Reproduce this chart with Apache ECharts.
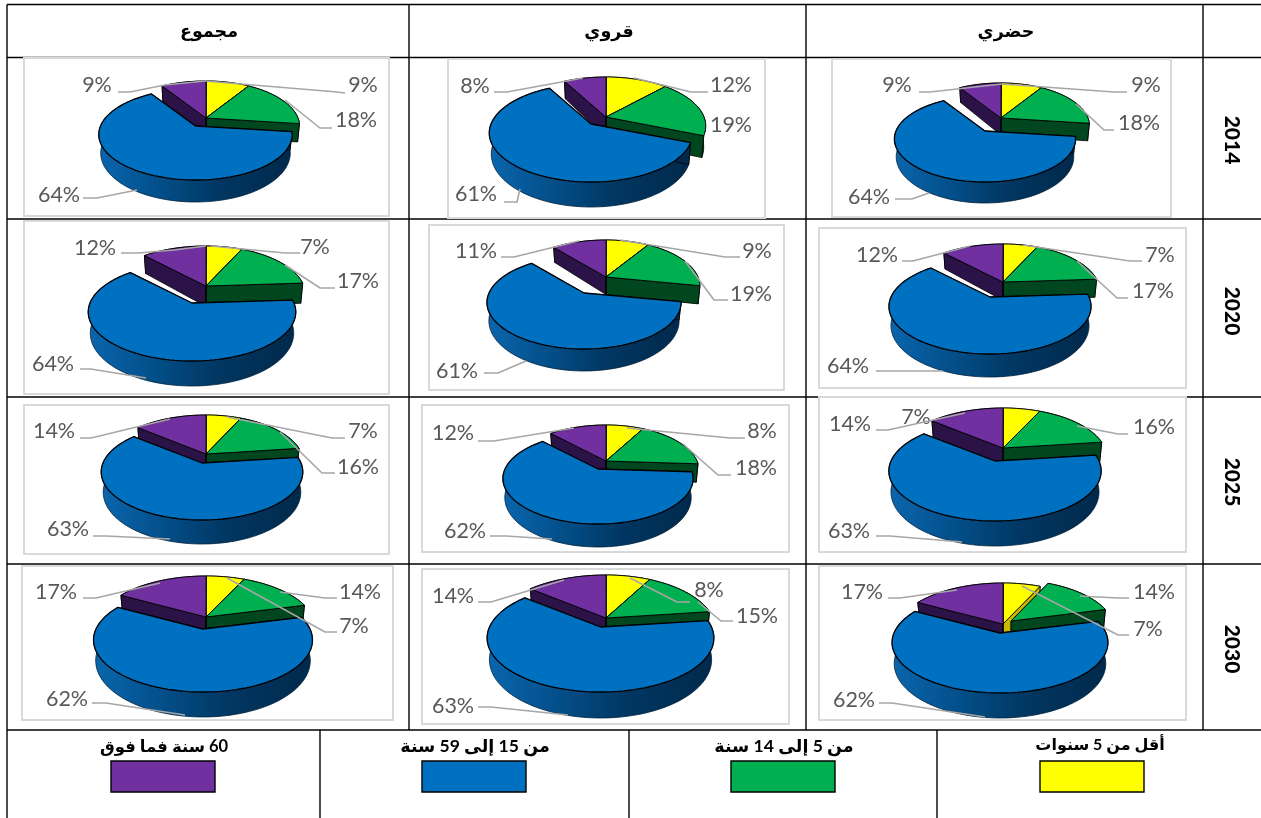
<!DOCTYPE html>
<html><head><meta charset="utf-8">
<style>html,body{margin:0;padding:0;background:#fff}#c{width:1261px;height:818px}</style>
<script src="https://cdn.jsdelivr.net/npm/echarts@6/dist/echarts.min.js"></script>
</head><body><div id="c"></div>
<script>
// ---------- data ----------
const zones = ['مجموع','قروي','حضري'];
const years = ['2014','2020','2025','2030'];
const ageGroups = ['أقل من 5 سنوات','من 5 إلى 14 سنة','من 15 إلى 59 سنة','60 سنة فما فوق'];
const totalShares = [[9,18,64,9],[7,17,64,12],[7,16,63,14],[7,14,62,17]];
const ruralShares = [[12,19,61,8],[9,19,61,11],[8,18,62,12],[8,15,63,14]];
const urbanShares = [[9,18,64,9],[7,17,64,12],[7,16,63,14],[7,14,62,17]];

// ---------- layout (pixels of the page, styles) ----------
// a: apex of back slices, top: y of back edge, b: apex of blue slice, bot: front y of blue face, ext: y of rim bottom, rx: radius of right-hand back slices, brx: radius of blue and purple
const pieLayout = [
 {a:[206,118],top:81, b:[195.5,126],bot:180,ext:202,rx:92,brx:95},
 {a:[206,286],top:246,b:[192,303],bot:361,ext:386,rx:98,brx:102},
 {a:[206,454],top:415,b:[202,463],bot:520,ext:544,rx:96,brx:99},
 {a:[206,617],top:576,b:[203,629],bot:692,ext:717,rx:107,brx:107},
 {a:[606,117],top:77, b:[591,124],bot:182,ext:207,rx:98,brx:100},
 {a:[606,277],top:240,b:[584,293],bot:349,ext:371,rx:92,brx:95},
 {a:[606,461],top:425,b:[598,469],bot:524,ext:547,rx:91,brx:93},
 {a:[606,618],top:575,b:[600.5,627],bot:692,ext:718,rx:107,brx:111},
 {a:[1001,118],top:83,b:[985,131],bot:182,ext:203,rx:87,brx:89},
 {a:[1003,282],top:244,b:[990,297],bot:354,ext:377,rx:95,brx:99},
 {a:[1003,448],top:408,b:[995,461],bot:521,ext:546,rx:102,brx:104},
 {a:[1003,624],top:583,b:[1000,633],bot:693,ext:718,rx:102,brx:106,g:[1011,621]}
];
// label anchors per pie: slice order yellow, green, blue, purple: [cx,cy,leaderPoints]
const labelLayout = [
 [[363,85,[[345,93],[337,92],[205,81]]],[356,120,[[332,128],[320,128],[285,100]]],[59,195,[[83,198],[97,198],[137,190]]],[97,85,[[118,92],[130,92],[165,85],[205,81]]]],
 [[315,247,[[300,253],[285,253],[211,246]]],[358,281,[[335,288],[320,288],[285,265]]],[53,364,[[80,369],[91,369],[146,378]]],[95,248,[[121,253],[138,253],[174,250],[206,246]]]],
 [[363,431,[[345,438],[332,438],[227,417]]],[358,467,[[335,473],[322,473],[280,432]]],[68,529,[[93,536],[106,536],[170,539]]],[54,431,[[80,438],[91,438],[170,419]]]],
 [[354,626,[[337,632],[325,632],[227,578]]],[360,592,[[337,598],[325,598],[280,592]]],[67,699,[[92,703],[106,703],[185,715]]],[56,592,[[83,598],[96,598],[160,583]]]],
 [[731,85,[[708,92],[691,92],[634,78]]],[731,125,null],[476,194,[[504,202],[517,202],[520,189]]],[475,86,[[494,92],[507,92],[583,78]]]],
 [[757,251,[[740,257],[725,257],[620,240]]],[751,294,[[728,300],[714,300],[685,261]]],[457,371,[[484,373],[498,373],[526,361]]],[476,251,[[501,257],[514,257],[579,241]]]],
 [[762,431,[[745,438],[730,438],[627,428]]],[756,468,[[731,475],[718,475],[683,444]]],[465,531,[[490,536],[506,536],[552,539]]],[453,433,[[478,441],[494,441],[574,428]]]],
 [[709,590,[[690,602],[677,602],[630,578]]],[757,616,[[733,621],[721,621],[698,602]]],[453,706,[[478,707],[491,707],[568,715]]],[453,596,[[478,602],[491,602],[564,580]]]],
 [[1146,85,[[1127,92],[1114,92],[1002,84]]],[1139,123,[[1114,130],[1104,130],[1076,104]]],[869,197,[[895,199],[912,199],[929,193]]],[897,85,[[919,92],[930,92],[1002,84]]]],
 [[1160,255,[[1142,261],[1130,261],[1023,245]]],[1153,291,[[1128,298],[1117,298],[1077,261]]],[848,366,[[876,371],[943,371]]],[877,255,[[902,261],[913,261],[970,246]]]],
 [[916,417,null],[1154,427,[[1128,434],[1118,434],[1077,426]]],[849,531,[[876,536],[890,536],[962,542]]],[850,424,[[876,430],[888,430],[965,413]]]],
 [[1148,629,[[1129,635],[1118,635],[1022,586]]],[1154,592,[[1129,598],[1118,598],[1080,596]]],[854,700,[[879,703],[892,703],[985,717]]],[862,592,[[888,598],[900,598],[957,590]]]]
];
const frames = [
 [24,58,389,216],[24,221,389,394],[24,405,389,554],[22,566,393,720],
 [448,59,765,218],[429,225,784,390],[422,405,789,552],[422,569,789,724],
 [832,59,1171,217],[819,228,1186,388],[819,397,1186,552],[819,566,1186,720]
];
const faceColors = ['#FFFF00','#00B050','#0070C0','#7030A0'];
const sideColors = ['#C9B800','#00461F',null,'#2C1347'];
const seriesZ = [2,3,5,4];
const FONT = "'Lato','DejaVu Sans',sans-serif";

// ---------- shares table per pie ----------
const allShares = [totalShares, ruralShares, urbanShares];
const pieRows = [];
allShares.forEach(z => z.forEach(row => pieRows.push(row)));

function proj(p, apex, t, rx) {
  const topR = p.a[1] - p.top, botR = p.bot - p.b[1];
  const k = (botR - topR) / (botR + topR), ry = botR * (1 - k);
  const u = Math.sin(t), v = -Math.cos(t), s = 1 / (1 - k * v);
  const depth = (p.ext - p.bot) * (1 - k) * s;
  const x = apex[0] + rx * u * s, y = apex[1] + ry * v * s;
  return {x, y, xb: apex[0] + (x - apex[0]) * 0.98, yb: y + depth};
}
function sliceItem(i) {
  return function (params, api) {
    const p = pieLayout[api.value(0)];
    const start = api.value(1), val = api.value(2);
    const apex = i === 2 ? p.b : (i === 1 && p.g ? p.g : p.a);
    const rx = i >= 2 ? p.brx : p.rx;
    const t0 = start / 100 * 2 * Math.PI, t1 = (start + val) / 100 * 2 * Math.PI;
    const n = Math.max(8, Math.round(val * 1.6));
    const arc = [];
    for (let j = 0; j <= n; j++) arc.push(proj(p, apex, t0 + (t1 - t0) * j / n, rx));
    const topR = p.a[1] - p.top, botR = p.bot - p.b[1];
    const k = (botR - topR) / (botR + topR);
    const cd = (p.ext - p.bot) * (1 - k);
    const cb = [apex[0], apex[1] + cd];
    const face = [apex].concat(arc.map(q => [q.x, q.y]));
    const rimPts = arc.map(q => [q.x, q.y]).concat(arc.slice().reverse().map(q => [q.xb, q.yb]));
    const rimFill = i === 2 ? new echarts.graphic.LinearGradient(0, 0, 1, 0, [
      {offset: 0, color: '#0A66AE'}, {offset: 0.3, color: '#03508B'},
      {offset: 0.62, color: '#013762'}, {offset: 1, color: '#01294B'}]) : sideColors[i];
    const sideFill = i === 2 ? '#01294B' : sideColors[i];
    const kids = [];
    const first = arc[0], last = arc[n];
    kids.push({type:'polygon', shape:{points:rimPts}, style:{fill:rimFill, stroke:i===2?'#00213C':'#000', lineWidth:0.8}});
    kids.push({type:'polygon', shape:{points:[apex,[first.x,first.y],[first.xb,first.yb],cb]}, style:{fill:sideFill, stroke:'#000', lineWidth:0.8}});
    kids.push({type:'polygon', shape:{points:[apex,[last.x,last.y],[last.xb,last.yb],cb]}, style:{fill:sideFill, stroke:'#000', lineWidth:0.8}});
    kids.push({type:'polygon', shape:{points:face}, style:{fill:faceColors[i], stroke:'#000', lineWidth:i===2?1.3:0.9, lineJoin:'round'}});
    return {type:'group', children:kids};
  };
}
function labelItem(params, api) {
  const a = labelLayout[api.value(0)][api.value(1)];
  const kids = [];
  if (a[2]) kids.push({type:'polyline', shape:{points:a[2]}, style:{fill:null, stroke:'#A6A6A6', lineWidth:1.6}});
  kids.push({type:'text', style:{x:a[0], y:a[1], text:api.value(2)+'%', fill:'#595959', font:'21.5px '+FONT, align:'center', verticalAlign:'middle'}});
  return {type:'group', children:kids};
}

// ---------- series ----------
const series = ageGroups.map((name, i) => ({
  type:'custom', name, coordinateSystem:'none', z:seriesZ[i], animation:false, silent:true,
  itemStyle:{color:faceColors[i]},
  renderItem:sliceItem(i),
  encode:{value:2},
  data:pieRows.map((row, pi) => [pi, row.slice(0, i).reduce((a, b) => a + b, 0), row[i]])
}));
const labelData = [];
pieRows.forEach((row, pi) => row.forEach((v, i) => labelData.push([pi, i, v])));
series.push({type:'custom', name:'labels', coordinateSystem:'none', z:8, animation:false, silent:true, renderItem:labelItem, encode:{value:2}, data:labelData});

// ---------- table ----------
const g = [];
const line = (x1,y1,x2,y2) => g.push({type:'line', z:0, shape:{x1,y1,x2,y2}, style:{stroke:'#000', lineWidth:1.4}});
[4.5,57.5,219,397,564,730].forEach(y => line(7,y,1261,y));
[7,409,806,1203].forEach(x => line(x,4.5,x,x===7?818:730));
[320,629,937].forEach(x => line(x,730,x,818));
frames.forEach(f => g.push({type:'rect', z:1, shape:{x:f[0],y:f[1],width:f[2]-f[0],height:f[3]-f[1]}, style:{fill:'#fff', stroke:'#D9D9D9', lineWidth:2}}));
const headerX = [209,609,1006];
zones.forEach((t,i) => g.push({type:'text', z:1, x:headerX[i], y:31, style:{text:t, fill:'#000', font:'bold 17.5px '+FONT, align:'center', verticalAlign:'middle'}}));
const yearY = [140,311,482,649];
years.forEach((t,i) => g.push({type:'text', z:1, x:1232, y:yearY[i], rotation:-Math.PI/2, style:{text:t, fill:'#000', font:'900 21px '+FONT, align:'center', verticalAlign:'middle'}}));
const legendX = [1040,731,422,111], legendTextX = [1100,784,475,164], legendTextY = [745,746,746,747], legendSize = [16,17.5,17.5,16.5];
ageGroups.forEach((t,i) => {
  g.push({type:'text', z:1, x:legendTextX[i], y:legendTextY[i], style:{text:'\u200F'+t, fill:'#000', font:'bold '+legendSize[i]+'px '+FONT, align:'center', verticalAlign:'middle'}});
  g.push({type:'rect', z:1, shape:{x:legendX[i],y:761,width:104,height:31}, style:{fill:faceColors[i], stroke:'#000', lineWidth:1.4}});
});

const chart = echarts.init(document.getElementById('c'), null, {renderer:'canvas'});
chart.setOption({animation:false, backgroundColor:'#fff', graphic:{elements:g}, series});
</script></body></html>
